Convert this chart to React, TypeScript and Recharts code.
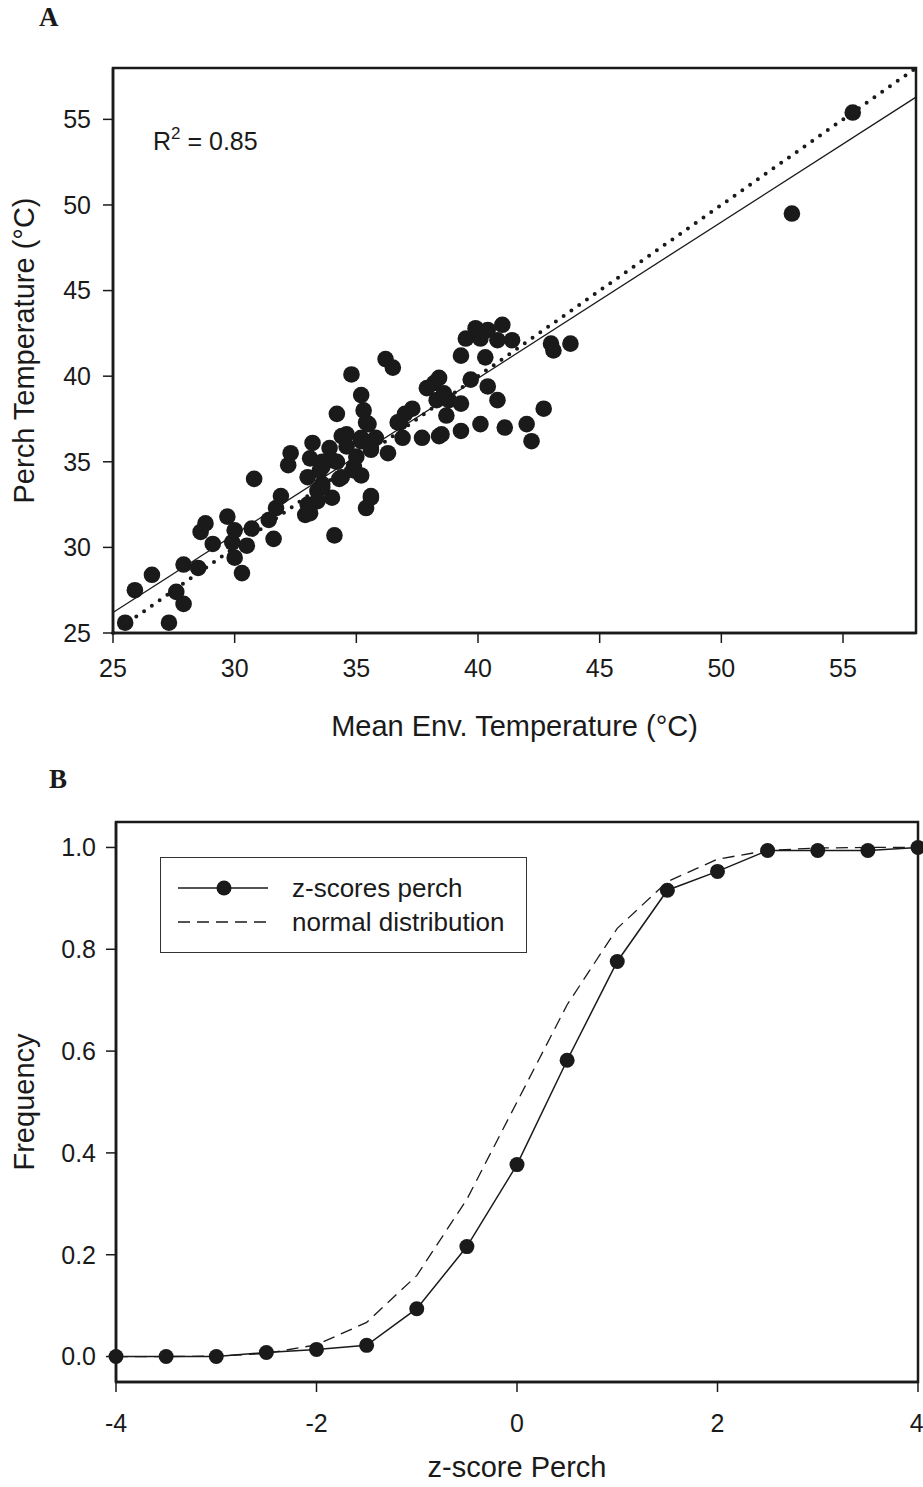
import React from "react";
import {
  ScatterChart,
  Scatter,
  LineChart,
  Line,
  XAxis,
  YAxis,
  ReferenceLine,
  ReferenceArea,
  Legend,
} from "recharts";

// panel A: mean env temperature vs perch temperature
const envTemp = [
  25.5, 25.9, 26.6, 27.3, 27.6, 27.9, 27.9, 28.5, 28.6, 28.8, 29.1, 29.7, 29.9, 30.0, 30.0, 30.3,
  30.5, 30.8, 30.7, 31.4, 31.6, 31.7, 31.9, 32.2, 32.3, 36.2, 36.5, 34.8, 35.2, 35.3, 34.2, 35.4,
  37.9, 38.2, 38.3, 37.3, 37.0, 36.8, 36.9, 37.7, 38.4, 33.2, 33.1, 33.9, 34.4, 34.6, 35.2, 35.6,
  36.3, 35.0, 34.0, 33.6, 34.9, 33.0, 34.4, 35.2, 33.6, 33.4, 34.0, 35.6, 35.4, 33.1, 33.4, 34.1,
  41.0, 39.9, 40.4, 39.5, 40.1, 40.8, 41.4, 43.0, 43.1, 43.8, 39.3, 40.3, 38.4, 39.7, 40.4, 38.6,
  38.8, 39.3, 40.8, 38.7, 42.7, 40.1, 41.1, 42.0, 42.2, 39.3, 38.5, 36.7, 35.5, 34.6, 35.8, 35.6,
  33.6, 34.2, 33.5, 34.9, 34.3, 33.6, 35.6, 33.0, 32.9, 35.2, 52.9, 55.4,
];
const perchTemp = [
  25.6, 27.5, 28.4, 25.6, 27.4, 26.7, 29.0, 28.8, 30.9, 31.4, 30.2, 31.8, 30.3, 31.0, 29.4, 28.5,
  30.1, 34.0, 31.1, 31.6, 30.5, 32.3, 33.0, 34.8, 35.5, 41.0, 40.5, 40.1, 38.9, 38.0, 37.8, 37.3,
  39.3, 39.6, 38.6, 38.1, 37.8, 37.3, 36.4, 36.4, 36.5, 36.1, 35.2, 35.8, 36.5, 35.9, 36.2, 36.1,
  35.5, 35.3, 35.1, 34.7, 34.7, 34.1, 34.1, 34.2, 33.7, 33.3, 32.9, 32.9, 32.3, 32.0, 32.7, 30.7,
  43.0, 42.8, 42.7, 42.2, 42.2, 42.1, 42.1, 41.9, 41.5, 41.9, 41.2, 41.1, 39.9, 39.8, 39.4, 39.0,
  38.6, 38.4, 38.6, 37.7, 38.1, 37.2, 37.0, 37.2, 36.2, 36.8, 36.6, 37.3, 37.2, 36.6, 36.4, 35.7,
  35.0, 35.0, 34.5, 34.5, 34.0, 33.5, 33.0, 32.5, 31.9, 36.4, 49.5, 55.4,
];
const fitLine = [
  { x: 25, y: 26.2 },
  { x: 58, y: 56.3 },
];
const identityLine = [
  { x: 25, y: 25 },
  { x: 58, y: 58 },
];
const tempTicks = [25, 30, 35, 40, 45, 50, 55];

// panel B: cumulative frequency of z-scores
const zScores = [-4, -3.5, -3, -2.5, -2, -1.5, -1, -0.5, 0, 0.5, 1, 1.5, 2, 2.5, 3, 3.5, 4];
const perchFreq = [0, 0, 0, 0.008, 0.014, 0.022, 0.094, 0.216, 0.377, 0.582, 0.776, 0.916, 0.953, 0.994, 0.994, 0.994, 1.0];
const normalFreq = [0, 0, 0.001, 0.006, 0.023, 0.067, 0.159, 0.309, 0.5, 0.691, 0.841, 0.933, 0.977, 0.994, 0.999, 1.0, 1.0];
const zTicks = [-4, -2, 0, 2, 4];
const freqTicks = [0, 0.2, 0.4, 0.6, 0.8, 1.0];

const scatterData = envTemp.map((x, i) => ({ x, y: perchTemp[i] }));
const cdfData = zScores.map((z, i) => ({ z, perch: perchFreq[i], normal: normalFreq[i] }));

const FONT = "'Liberation Sans', Arial, sans-serif";
const INK = "#1a1a1a";
const tickStyle = { fontSize: 25, fill: INK, fontFamily: FONT };
const titleStyle = { fontSize: 29, fill: INK, fontFamily: FONT };

const dot = (props: any) => <circle cx={props.cx} cy={props.cy} r={8.3} fill={INK} />;

const rSquared = (props: any) => {
  const { x, y } = props.viewBox;
  return (
    <text x={x + 40} y={y + 82} fontSize={25} fill={INK} fontFamily={FONT}>
      R
      <tspan dy={-11} fontSize={17}>2</tspan>
      <tspan dy={11}> = 0.85</tspan>
    </text>
  );
};

const legendBox = () => (
  <div
    style={{
      border: "1px solid #333",
      width: 367,
      height: 96,
      boxSizing: "border-box",
      paddingTop: 13,
      fontFamily: FONT,
      fontSize: 26,
      color: INK,
      background: "#fff",
    }}
  >
    <div style={{ display: "flex", alignItems: "center", height: 34 }}>
      <svg width={131} height={20}>
        <line x1={17} y1={10} x2={107} y2={10} stroke={INK} strokeWidth={1.5} />
        <circle cx={63} cy={10} r={7.5} fill={INK} />
      </svg>
      <span>z-scores perch</span>
    </div>
    <div style={{ display: "flex", alignItems: "center", height: 34 }}>
      <svg width={131} height={20}>
        <line x1={17} y1={10} x2={107} y2={10} stroke={INK} strokeWidth={1.3} strokeDasharray="12 7" />
      </svg>
      <span>normal distribution</span>
    </div>
  </div>
);

const panelLetter: React.CSSProperties = {
  position: "absolute",
  fontFamily: "'Liberation Serif', 'Times New Roman', serif",
  fontWeight: "bold",
  fontSize: 27,
  lineHeight: "30px",
  color: INK,
};

export default function App() {
  return (
    <div style={{ position: "absolute", left: 0, top: 0, width: 923, height: 1487, background: "#fff" }}>
      <div style={{ ...panelLetter, left: 39, top: 2 }}>A</div>
      <div style={{ ...panelLetter, left: 49, top: 764 }}>B</div>

      <div style={{ position: "absolute", left: 0, top: 0 }}>
        <ScatterChart width={923} height={760} margin={{ top: 68, right: 7, left: 0, bottom: 0 }}>
          <XAxis
            type="number"
            dataKey="x"
            domain={[25, 58]}
            ticks={tempTicks}
            allowDataOverflow
            height={127}
            tick={tickStyle}
            tickSize={10}
            tickMargin={16}
            axisLine={{ stroke: INK, strokeWidth: 2.5 }}
            tickLine={{ stroke: INK, strokeWidth: 1.5 }}
            label={{ value: "Mean Env. Temperature (°C)", position: "insideBottom", offset: 24, style: titleStyle }}
          />
          <YAxis
            type="number"
            dataKey="y"
            domain={[25, 58]}
            ticks={tempTicks}
            allowDataOverflow
            width={113}
            tick={tickStyle}
            tickSize={10}
            tickMargin={12}
            axisLine={{ stroke: INK, strokeWidth: 2.5 }}
            tickLine={{ stroke: INK, strokeWidth: 1.5 }}
            label={{ value: "Perch Temperature (°C)", angle: -90, position: "insideLeft", offset: 24, style: { ...titleStyle, textAnchor: "middle" } }}
          />
          <ReferenceArea x1={25} x2={58} y1={25} y2={58} fill="none" stroke={INK} strokeWidth={2.5} label={rSquared} />
          <ReferenceLine segment={identityLine} stroke={INK} strokeWidth={4} strokeDasharray="0 9.5" strokeLinecap="round" />
          <ReferenceLine segment={fitLine} stroke={INK} strokeWidth={1.3} />
          <Scatter data={scatterData} shape={dot} isAnimationActive={false} />
        </ScatterChart>
      </div>

      <div style={{ position: "absolute", left: 0, top: 780 }}>
        <LineChart width={923} height={707} data={cdfData} margin={{ top: 42, right: 5, left: 0, bottom: 0 }}>
          <XAxis
            type="number"
            dataKey="z"
            domain={[-4, 4]}
            ticks={zTicks}
            height={105}
            tick={tickStyle}
            tickSize={10}
            tickMargin={22}
            axisLine={{ stroke: INK, strokeWidth: 2.5 }}
            tickLine={{ stroke: INK, strokeWidth: 1.5 }}
            label={{ value: "z-score Perch", position: "insideBottom", offset: 10, style: titleStyle }}
          />
          <YAxis
            type="number"
            domain={[-0.05, 1.05]}
            ticks={freqTicks}
            tickFormatter={(v: number) => v.toFixed(1)}
            width={116}
            tick={tickStyle}
            tickSize={10}
            tickMargin={10}
            axisLine={{ stroke: INK, strokeWidth: 2.5 }}
            tickLine={{ stroke: INK, strokeWidth: 1.5 }}
            label={{ value: "Frequency", angle: -90, position: "insideLeft", offset: 24, style: { ...titleStyle, textAnchor: "middle" } }}
          />
          <ReferenceArea x1={-4} x2={4} y1={-0.05} y2={1.05} fill="none" stroke={INK} strokeWidth={2.5} />
          <Legend
            layout="vertical"
            align="center"
            verticalAlign="middle"
            content={legendBox}
            wrapperStyle={{ position: "absolute", left: 160, top: 77, width: 367, height: 96 }}
          />
          <Line
            dataKey="normal"
            type="linear"
            stroke={INK}
            strokeWidth={1.3}
            strokeDasharray="12 7"
            dot={false}
            isAnimationActive={false}
          />
          <Line
            dataKey="perch"
            type="linear"
            stroke={INK}
            strokeWidth={1.5}
            dot={{ r: 7.5, fill: INK, stroke: INK, strokeWidth: 0 }}
            isAnimationActive={false}
          />
        </LineChart>
      </div>
    </div>
  );
}
